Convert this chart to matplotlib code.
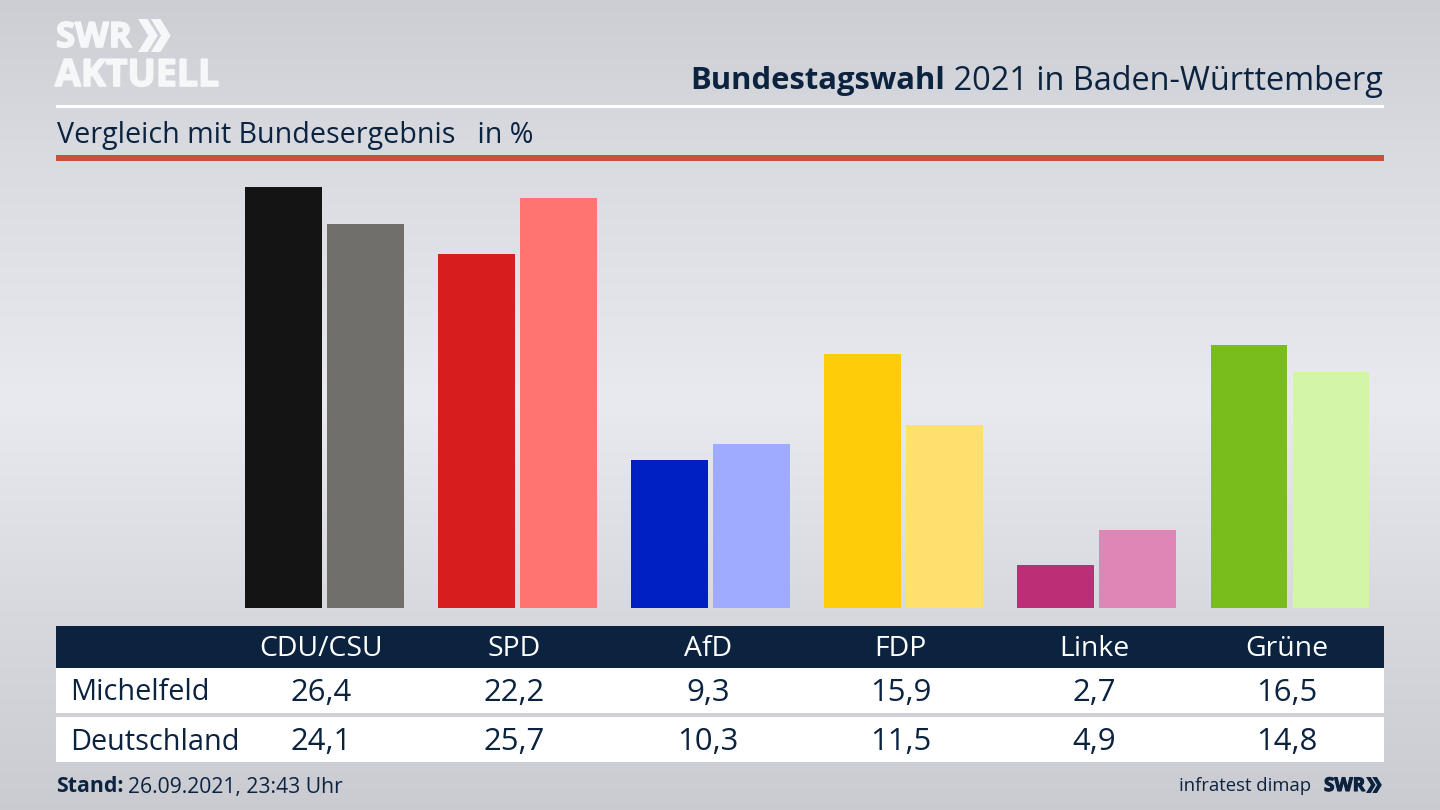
import matplotlib
matplotlib.use('Agg')
import matplotlib.pyplot as plt
import matplotlib.patheffects as pe
import numpy as np

parties = ['CDU/CSU', 'SPD', 'AfD', 'FDP', 'Linke', 'Grüne']
michelfeld = [26.4, 22.2, 9.3, 15.9, 2.7, 16.5]
deutschland = [24.1, 25.7, 10.3, 11.5, 4.9, 14.8]
colors_local = ['#141414', '#d81e1c', '#0020c4', '#ffcc0a', '#bc2f76', '#78bd1c']
colors_bund = ['#706f6c', '#ff7370', '#9eabff', '#ffdf6e', '#df86b6', '#d3f5a8']

NAVY = '#0c2340'
LOGO = '#f6f7f8'
W, H = 1440, 810
plt.rcParams['font.family'] = ['Open Sans', 'DejaVu Sans']

fig = plt.figure(figsize=(14.4, 8.1), dpi=100)

# page layer in pixel coordinates
bg = fig.add_axes([0, 0, 1, 1])
bg.set_xlim(0, W)
bg.set_ylim(H, 0)
bg.axis('off')
stops_y = [0, 150, 400, 620, 810]
stops_v = [0.80, 0.85, 0.91, 0.84, 0.79]
grad = np.interp(np.arange(H), stops_y, stops_v)
rgb = np.stack([grad, grad + 0.008, grad + 0.03], axis=1)[:, None, :]
bg.imshow(np.clip(rgb, 0, 1), extent=[0, W, H, 0], aspect='auto', zorder=0)

bg.fill_between([56, 1384], 105, 107.5, color='white', lw=0, zorder=1)
bg.fill_between([56, 1384], 155, 160.5, color='#c8503f', lw=0, zorder=1)
bg.fill_between([56, 1384], 626, 668, color=NAVY, lw=0, zorder=1)
bg.fill_between([56, 1384], 668, 713, color='white', lw=0, zorder=1)
bg.fill_between([56, 1384], 717, 762, color='white', lw=0, zorder=1)


def chevrons(left, top, size, color):
    # the two arrows of the SWR logo, size is their height in pixels
    xs = np.array([0, 0.29, 0.6, 0.29, 0, 0.31])
    ys = np.array([0, 0, 0.5, 1, 1, 0.5])
    for shift in [0, 0.39]:
        bg.fill(left + (xs + shift) * size, top + ys * size, color=color, lw=0, zorder=2)


# logo
heavy = [pe.withStroke(linewidth=1.2, foreground=LOGO)]
bg.text(56, 38, 'SWR', color=LOGO, fontsize=25, fontweight='bold', va='center', ha='left', zorder=2, path_effects=heavy)
chevrons(138, 19, 33, LOGO)
bg.text(55, 76, 'AKTUELL', color=LOGO, fontsize=27, fontweight='bold', va='center', ha='left', zorder=2, path_effects=heavy)

# title: regular part right aligned, bold part in front of it
renderer = fig.canvas.get_renderer()
t = bg.text(1383, 81, ' 2021 in Baden-Württemberg', color=NAVY, fontsize=23.4, va='center', ha='right', zorder=2)
left = t.get_window_extent(renderer).x0
bg.text(left, 81, 'Bundestagswahl', color=NAVY, fontsize=22.3, fontweight='bold', va='center', ha='right', zorder=2)

bg.text(57, 135, 'Vergleich mit Bundesergebnis   in %', color=NAVY, fontsize=20.6, va='center', ha='left', zorder=2)

# bars
ax = fig.add_axes([0, 1 - 608 / H, 1, 608 / H], facecolor='none')
x0, step = 324.5, 193.1
ax.set_xlim(-x0 / step, (W - x0) / step)
ax.set_ylim(0, 608 / 15.95)
ax.axis('off')
x = np.arange(len(parties))
ax.bar(x - 0.2124, michelfeld, width=0.398, color=colors_local)
ax.bar(x + 0.2124, deutschland, width=0.398, color=colors_bund)

# table
for i, p in enumerate(parties):
    cx = x0 - 3 + step * i
    bg.text(cx, 649, p, color='white', fontsize=20.4, va='center', ha='center', zorder=2)
    bg.text(cx, 693, f'{michelfeld[i]:.1f}'.replace('.', ','), color=NAVY, fontsize=22.4, va='center', ha='center', zorder=2)
    bg.text(cx, 742, f'{deutschland[i]:.1f}'.replace('.', ','), color=NAVY, fontsize=22.4, va='center', ha='center', zorder=2)
bg.text(70, 693, 'Michelfeld', color=NAVY, fontsize=20.8, va='center', ha='left', zorder=2)
bg.text(70, 742, 'Deutschland', color=NAVY, fontsize=20.8, va='center', ha='left', zorder=2)

# footer
s = bg.text(56, 787, 'Stand:', color=NAVY, fontsize=15.3, fontweight='bold', va='center', ha='left', zorder=2)
right = s.get_window_extent(renderer).x1
bg.text(right + 4, 787, '26.09.2021, 23:43 Uhr', color=NAVY, fontsize=15.2, va='center', ha='left', zorder=2)
bg.text(1311, 786, 'infratest dimap', color=NAVY, fontsize=13.3, va='center', ha='right', zorder=2)
heavy_navy = [pe.withStroke(linewidth=0.8, foreground=NAVY)]
bg.text(1324, 786, 'SWR', color=NAVY, fontsize=13.6, fontweight='bold', va='center', ha='left', zorder=2, path_effects=heavy_navy)
chevrons(1366, 777, 16, NAVY)

fig.savefig('out.png', dpi=100)
